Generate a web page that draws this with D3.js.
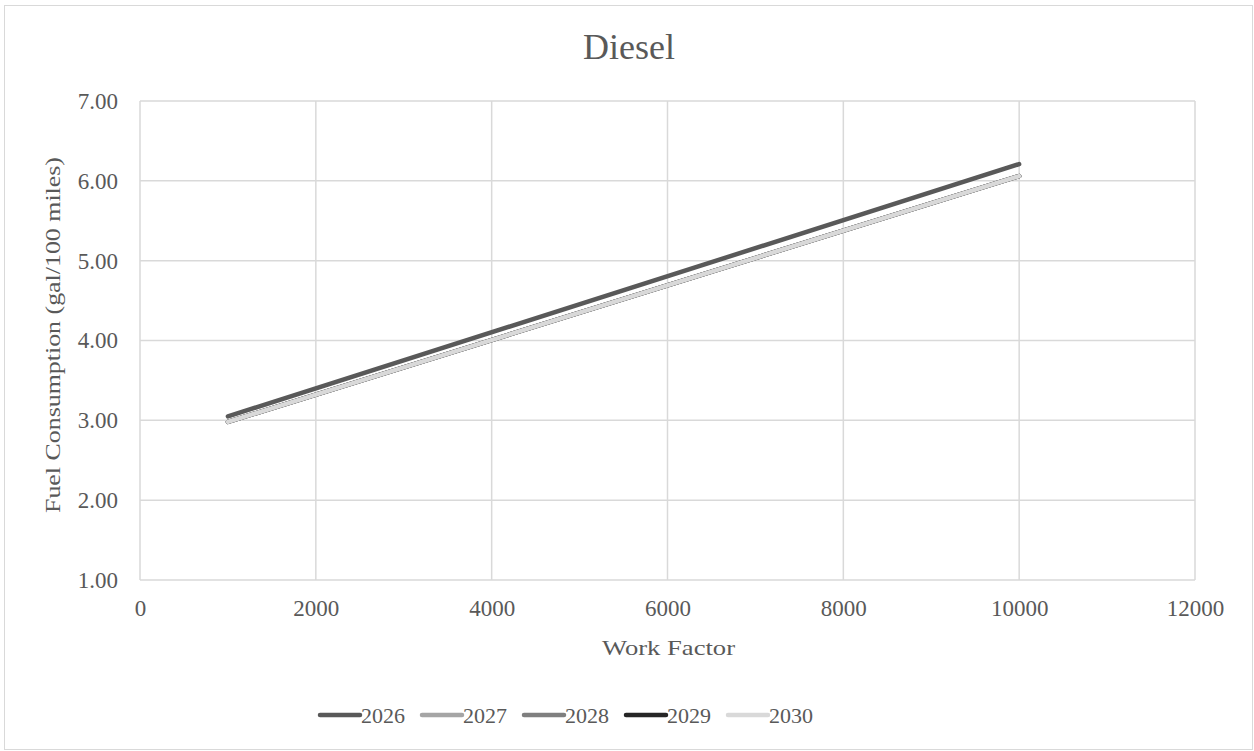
<!DOCTYPE html>
<html lang="en">
<head>
<meta charset="utf-8">
<title>Diesel</title>
<script src="https://cdnjs.cloudflare.com/ajax/libs/d3/7.8.5/d3.min.js"></script>
<style>
  body { margin: 0; background: white; }
  svg text { font-family: "Liberation Serif", "Times New Roman", serif; fill: #595959; }
</style>
</head>
<body>
<div id="chart"></div>
<script>
// chart data
const years = ["2026", "2027", "2028", "2029", "2030"];
const workFactor = [1000, 10000];
const fc2026 = [3.05, 6.21];
const fc2027 = [2.98, 6.06];
const fc2028 = [2.98, 6.06];
const fc2029 = [2.98, 6.06];
const fc2030 = [2.98, 6.06];
const xTicks = [0, 2000, 4000, 6000, 8000, 10000, 12000];
const yTicks = [1, 2, 3, 4, 5, 6, 7];

const colors = ["#595959", "#a5a5a5", "#7f7f7f", "#262626", "#d9d9d9"];
const series = [fc2026, fc2027, fc2028, fc2029, fc2030];

const width = 1254, height = 751;
const margin = { left: 140, right: 59, top: 101, bottom: 171 };

const svg = d3.select("#chart").append("svg")
  .attr("width", width)
  .attr("height", height);

// outer chart border
svg.append("rect")
  .attr("x", 4.5).attr("y", 5.5)
  .attr("width", 1248).attr("height", 744)
  .attr("fill", "white")
  .attr("stroke", "#d9d9d9");

const x = d3.scaleLinear().domain([0, 12000]).range([margin.left, width - margin.right]);
const y = d3.scaleLinear().domain([1, 7]).range([height - margin.bottom, margin.top]);

// gridlines
svg.append("g")
  .selectAll("line")
  .data(xTicks)
  .enter().append("line")
    .attr("x1", d => x(d)).attr("x2", d => x(d))
    .attr("y1", y(1)).attr("y2", y(7))
    .attr("stroke", "#d9d9d9").attr("stroke-width", 1.5);

svg.append("g")
  .selectAll("line")
  .data(yTicks)
  .enter().append("line")
    .attr("x1", x(0)).attr("x2", x(12000))
    .attr("y1", d => y(d)).attr("y2", d => y(d))
    .attr("stroke", "#d9d9d9").attr("stroke-width", 1.5);

// axes (labels only)
const xAxis = svg.append("g")
  .attr("transform", `translate(0,${y(1)})`)
  .call(d3.axisBottom(x).tickValues(xTicks).tickSize(0).tickPadding(20).tickFormat(d3.format("d")));
xAxis.select(".domain").remove();
xAxis.selectAll("text").style("font-size", "23px");

const yAxis = svg.append("g")
  .attr("transform", `translate(${x(0)},0)`)
  .call(d3.axisLeft(y).tickValues(yTicks).tickSize(0).tickPadding(22).tickFormat(d3.format(".2f")));
yAxis.select(".domain").remove();
yAxis.selectAll("text").style("font-size", "23px");

// lines
const line = d3.line()
  .x((d, i) => x(workFactor[i]))
  .y(d => y(d));

svg.append("g")
  .selectAll("path")
  .data(series)
  .enter().append("path")
    .attr("d", d => line(d))
    .attr("fill", "none")
    .attr("stroke", (d, i) => colors[i])
    .attr("stroke-width", 4.5)
    .attr("stroke-linecap", "round");

// title
svg.append("text")
  .attr("x", 629).attr("y", 59)
  .attr("text-anchor", "middle")
  .style("font-size", "36px")
  .text("Diesel");

// axis titles
svg.append("text")
  .attr("x", 602).attr("y", 655)
  .attr("textLength", 133)
  .attr("lengthAdjust", "spacingAndGlyphs")
  .style("font-size", "22px")
  .text("Work Factor");

svg.append("text")
  .attr("transform", "translate(60,513) rotate(-90)")
  .attr("textLength", 356)
  .attr("lengthAdjust", "spacingAndGlyphs")
  .style("font-size", "22px")
  .text("Fuel Consumption (gal/100 miles)");

// legend
const legendX = [318, 420, 522, 624, 726];
const legend = svg.append("g")
  .selectAll("g")
  .data(years)
  .enter().append("g")
    .attr("transform", (d, i) => `translate(${legendX[i]},715)`);

legend.append("line")
  .attr("x1", 2).attr("x2", 42)
  .attr("y1", 0).attr("y2", 0)
  .attr("stroke", (d, i) => colors[i])
  .attr("stroke-width", 4.5)
  .attr("stroke-linecap", "round");

legend.append("text")
  .attr("x", 43).attr("y", 8)
  .style("font-size", "22px")
  .text(d => d);
</script>
</body>
</html>
